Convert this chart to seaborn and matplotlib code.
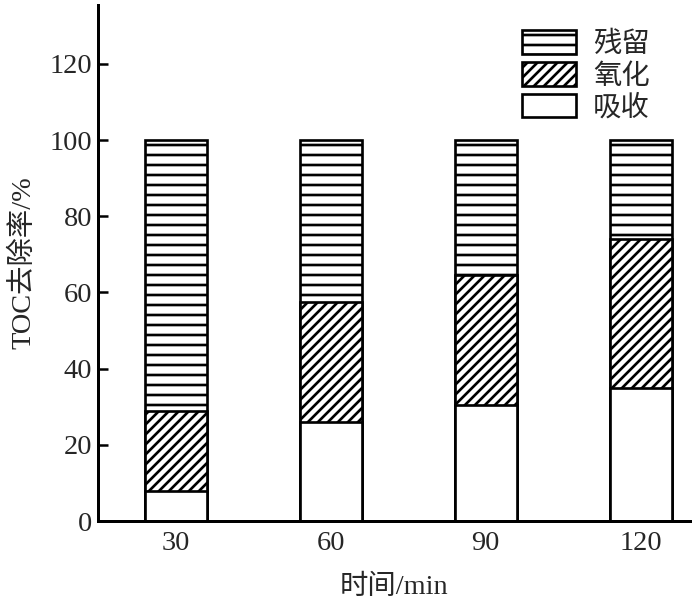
import matplotlib
matplotlib.use('Agg')
import matplotlib.pyplot as plt
import seaborn as sns
import pandas as pd
from matplotlib.patches import Patch

# 数据
times = ['30', '60', '90', '120']
absorb = [8, 26, 30.5, 35]          # 吸收
oxid = [21, 31.5, 34, 39]           # 氧化
resid = [100 - a - o for a, o in zip(absorb, oxid)]  # 残留

sns.set_style("ticks")
plt.rcParams['font.family'] = ['Liberation Serif', 'Noto Sans CJK SC']
plt.rcParams['hatch.linewidth'] = 1.6
plt.rcParams['axes.unicode_minus'] = False

df = pd.DataFrame({'time': times, 'absorb': absorb, 'oxid': oxid, 'resid': resid})
df['top_oxid'] = df['absorb'] + df['oxid']
df['total'] = df['top_oxid'] + df['resid']

fig = plt.figure(figsize=(700 / 120, 601 / 120), dpi=120)
ax = fig.add_axes([0.14, 0.133, 0.846, 0.859])

common = dict(color='white', edgecolor='black', linewidth=1.6, width=0.4)
sns.barplot(data=df, x='time', y='total', hatch='--', ax=ax, **common)
sns.barplot(data=df, x='time', y='top_oxid', hatch='////', ax=ax, **common)
sns.barplot(data=df, x='time', y='absorb', ax=ax, **common)

ax.set_ylim(0, 135.5)
ax.set_xlim(-0.5, 3.32)
ax.set_yticks([0, 20, 40, 60, 80, 100, 120])
ax.tick_params(direction='in', length=6, width=1.5, labelsize=17, color='black')
ax.tick_params(axis='x', pad=6)
for s in ['top', 'right']:
    ax.spines[s].set_visible(False)
for s in ['left', 'bottom']:
    ax.spines[s].set_linewidth(1.8)
    ax.spines[s].set_color('black')

ax.set_xlabel('时间/min', fontsize=17, labelpad=11)
ax.set_ylabel('TOC去除率/%', fontsize=17, labelpad=8)

handles = [
    Patch(facecolor='white', edgecolor='black', hatch='--', linewidth=1.6, label='残留'),
    Patch(facecolor='white', edgecolor='black', hatch='////', linewidth=1.6, label='氧化'),
    Patch(facecolor='white', edgecolor='black', linewidth=1.6, label='吸收'),
]
ax.legend(handles=handles, loc='upper right', bbox_to_anchor=(0.975, 1.0), frameon=False,
          fontsize=17, handlelength=1.9, handleheight=0.9, labelspacing=0.15,
          handletextpad=0.6)

plt.savefig('out.png', dpi=120)
plt.close()
